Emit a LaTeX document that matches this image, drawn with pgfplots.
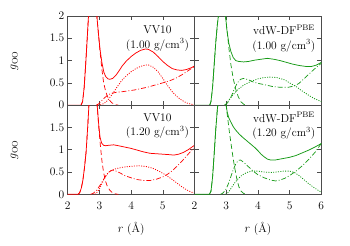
\documentclass[border=0pt]{standalone}
\usepackage{pgfplots}
\pgfplotsset{compat=1.18}
\usepgfplotslibrary{groupplots}
\definecolor{cR}{rgb}{1,0,0}
\definecolor{cG}{rgb}{0.08,0.6,0.08}
\tikzset{
  sl/.style={line width=0.75pt},
  dl/.style={line width=0.7pt, dash pattern=on 5pt off 3pt},
  tl/.style={line width=0.8pt, dash pattern=on 1pt off 1.4pt},
  dd/.style={line width=0.7pt, dash pattern=on 5pt off 2pt on 0.9pt off 2pt},
}
\begin{document}
\begin{tikzpicture}[font=\fontsize{11.5}{13.8}\selectfont]
\begin{groupplot}[
  group style={group size=2 by 2, horizontal sep=0pt, vertical sep=0pt},
  scale only axis, width=126.8pt, height=89.15pt,
  xmin=2, xmax=6, ymin=0, ymax=2,
  xtick={2,3,4,5,6}, ytick={0,0.5,1,1.5,2},
  axis line style={black!70, line width=0.6pt},
  every tick/.style={black!70, line width=0.5pt},
  xticklabel style={yshift=-4pt},
  no markers,
]
% ---------- top left: VV10 1.00
\nextgroupplot[xticklabels={}, yticklabels={0,0.5,1,1.5,2},
  ylabel={$g_{\mathrm{OO}}$},
  ylabel style={at={(axis description cs:-0.42,0.5)}, anchor=center}]
\coordinate (TL) at (rel axis cs:0,1);
\addplot[cR, sl] coordinates {(2.0,0)(2.42,0)(2.47,0.08)(2.52,0.4)(2.57,0.95)(2.62,1.55)(2.66,2.05)(2.7,2.5)(2.78,2.9)(2.86,2.6)(2.92,2.0)(2.97,1.6)(3.02,1.25)(3.08,0.95)(3.14,0.74)(3.2,0.64)(3.27,0.59)(3.33,0.58)(3.42,0.6)(3.52,0.67)(3.62,0.77)(3.72,0.88)(3.85,0.99)(4.0,1.09)(4.15,1.17)(4.3,1.23)(4.45,1.26)(4.55,1.25)(4.7,1.19)(4.85,1.09)(5.0,0.98)(5.15,0.89)(5.3,0.82)(5.45,0.79)(5.6,0.78)(5.75,0.8)(5.9,0.84)(6.0,0.88)};
\addplot[cR, dl] coordinates {(2.42,0)(2.47,0.08)(2.52,0.4)(2.57,0.95)(2.62,1.55)(2.66,2.05)(2.7,2.5)(2.78,2.9)(2.86,2.6)(2.92,2.0)(2.97,1.6)(3.02,1.2)(3.08,0.8)(3.13,0.52)(3.19,0.33)(3.25,0.2)(3.32,0.11)(3.4,0.05)(3.5,0.01)(3.6,0)};
\addplot[cR, tl] coordinates {(2.95,0)(3.05,0.01)(3.15,0.04)(3.25,0.1)(3.35,0.19)(3.45,0.29)(3.55,0.4)(3.7,0.55)(3.85,0.66)(4.0,0.75)(4.15,0.82)(4.3,0.87)(4.45,0.9)(4.55,0.9)(4.7,0.85)(4.85,0.75)(5.0,0.6)(5.15,0.44)(5.3,0.3)(5.45,0.19)(5.6,0.11)(5.75,0.05)(5.9,0.02)(6.0,0.01)};
\addplot[cR, dd] coordinates {(2.9,0)(2.98,0.03)(3.06,0.09)(3.14,0.15)(3.22,0.2)(3.3,0.24)(3.4,0.27)(3.55,0.29)(3.7,0.3)(3.9,0.32)(4.1,0.34)(4.3,0.37)(4.5,0.4)(4.7,0.44)(4.9,0.48)(5.1,0.52)(5.3,0.57)(5.45,0.62)(5.6,0.68)(5.75,0.75)(5.9,0.82)(6.0,0.87)};
\node[align=center] at (axis cs:4.83,1.5) {VV10\\[1pt](1.00 g/cm$^3$)};
% ---------- top right: vdW-DF 1.00
\nextgroupplot[xticklabels={}, yticklabels={}]
\addplot[cG, sl] coordinates {(2.0,0)(2.48,0)(2.52,0.08)(2.57,0.4)(2.62,0.9)(2.67,1.4)(2.72,1.8)(2.77,2.1)(2.85,2.7)(2.92,2.5)(2.98,2.0)(3.02,1.7)(3.08,1.4)(3.15,1.2)(3.22,1.07)(3.3,1.0)(3.4,0.98)(3.55,0.97)(3.7,0.98)(3.9,1.01)(4.1,1.03)(4.3,1.05)(4.5,1.03)(4.7,1.0)(4.9,0.96)(5.1,0.92)(5.3,0.89)(5.5,0.87)(5.7,0.87)(5.85,0.9)(6.0,0.96)};
\addplot[cG, dl] coordinates {(2.48,0)(2.52,0.08)(2.57,0.4)(2.62,0.9)(2.67,1.4)(2.72,1.8)(2.77,2.1)(2.85,2.7)(2.92,2.5)(2.98,2.0)(3.03,1.65)(3.09,1.25)(3.15,0.9)(3.22,0.6)(3.3,0.36)(3.38,0.19)(3.46,0.08)(3.55,0.02)(3.65,0)};
\addplot[cG, tl] coordinates {(2.95,0)(3.02,0.04)(3.09,0.12)(3.2,0.22)(3.35,0.34)(3.55,0.45)(3.77,0.53)(4.0,0.59)(4.2,0.62)(4.4,0.63)(4.6,0.62)(4.83,0.57)(5.05,0.48)(5.2,0.42)(5.35,0.34)(5.5,0.27)(5.65,0.2)(5.8,0.14)(6.0,0.08)};
\addplot[cG, dd] coordinates {(2.95,0)(3.05,0.06)(3.15,0.18)(3.25,0.35)(3.35,0.5)(3.45,0.58)(3.55,0.6)(3.7,0.57)(3.85,0.52)(4.0,0.49)(4.2,0.46)(4.45,0.42)(4.7,0.4)(4.95,0.4)(5.15,0.43)(5.3,0.49)(5.45,0.59)(5.6,0.69)(5.75,0.79)(5.9,0.88)(6.0,0.94)};
\node[align=center] at (axis cs:4.82,1.5) {vdW-DF\textsuperscript{PBE}\\[1pt](1.00 g/cm$^3$)};
% ---------- bottom left: VV10 1.20
\nextgroupplot[xticklabels={2,3,4,5,}, yticklabels={0,0.5,1,1.5,},
  ylabel={$g_{\mathrm{OO}}$},
  ylabel style={at={(axis description cs:-0.42,0.5)}, anchor=center},
  xlabel={$r$ (\AA)},
  xlabel style={at={(axis description cs:0.5,-0.39)}, anchor=center}]
\addplot[cR, sl] coordinates {(2.0,0)(2.33,0)(2.38,0.04)(2.43,0.14)(2.48,0.32)(2.53,0.6)(2.58,0.95)(2.63,1.5)(2.67,2.0)(2.78,2.9)(2.88,2.5)(2.93,2.0)(2.98,1.55)(3.02,1.28)(3.07,1.15)(3.13,1.1)(3.2,1.09)(3.3,1.1)(3.45,1.11)(3.6,1.09)(3.8,1.06)(4.0,1.03)(4.2,0.99)(4.4,0.95)(4.6,0.92)(4.8,0.91)(5.0,0.9)(5.2,0.89)(5.35,0.88)(5.5,0.9)(5.65,0.94)(5.8,1.0)(5.9,1.05)(6.0,1.1)};
\addplot[cR, dl] coordinates {(2.33,0)(2.38,0.04)(2.43,0.14)(2.48,0.32)(2.53,0.6)(2.58,0.95)(2.63,1.5)(2.67,2.0)(2.78,2.9)(2.88,2.5)(2.93,2.0)(2.98,1.5)(3.03,1.1)(3.08,0.75)(3.13,0.5)(3.19,0.3)(3.25,0.18)(3.32,0.1)(3.4,0.04)(3.5,0.01)(3.6,0)};
\addplot[cR, tl] coordinates {(2.85,0)(2.92,0.04)(3.0,0.12)(3.08,0.24)(3.17,0.38)(3.27,0.48)(3.38,0.54)(3.55,0.58)(3.75,0.61)(4.0,0.63)(4.25,0.64)(4.5,0.62)(4.7,0.58)(4.9,0.51)(5.1,0.43)(5.3,0.33)(5.45,0.25)(5.6,0.17)(5.75,0.1)(5.9,0.05)(6.0,0.03)};
\addplot[cR, dd] coordinates {(2.72,0)(2.8,0.02)(2.9,0.08)(3.0,0.18)(3.1,0.3)(3.2,0.41)(3.3,0.5)(3.4,0.54)(3.5,0.53)(3.65,0.48)(3.8,0.42)(4.0,0.37)(4.2,0.33)(4.4,0.31)(4.6,0.31)(4.8,0.34)(5.0,0.39)(5.15,0.45)(5.3,0.53)(5.45,0.63)(5.6,0.74)(5.75,0.86)(5.9,0.98)(6.0,1.05)};
\node[align=center] at (axis cs:4.83,1.53) {VV10\\[1pt](1.20 g/cm$^3$)};
% ---------- bottom right: vdW-DF 1.20
\nextgroupplot[xticklabels={2,3,4,5,6}, yticklabels={},
  xlabel={$r$ (\AA)},
  xlabel style={at={(axis description cs:0.5,-0.39)}, anchor=center}]
\coordinate (BR) at (rel axis cs:1,0);
\addplot[cG, sl] coordinates {(2.0,0)(2.47,0)(2.52,0.07)(2.57,0.38)(2.62,0.9)(2.67,1.45)(2.72,1.9)(2.75,2.1)(2.85,2.7)(2.93,2.5)(2.98,2.1)(3.03,1.85)(3.08,1.72)(3.14,1.63)(3.22,1.52)(3.3,1.44)(3.4,1.36)(3.5,1.29)(3.6,1.23)(3.7,1.17)(3.8,1.11)(3.9,1.05)(4.0,0.98)(4.1,0.9)(4.2,0.84)(4.3,0.79)(4.4,0.77)(4.55,0.77)(4.7,0.79)(4.85,0.81)(5.0,0.83)(5.2,0.87)(5.4,0.93)(5.6,0.99)(5.8,1.06)(6.0,1.14)};
\addplot[cG, dl] coordinates {(2.47,0)(2.52,0.07)(2.57,0.38)(2.62,0.9)(2.67,1.45)(2.72,1.9)(2.75,2.1)(2.85,2.7)(2.93,2.5)(2.98,2.1)(3.04,1.75)(3.1,1.4)(3.16,1.1)(3.22,0.8)(3.28,0.55)(3.34,0.33)(3.4,0.17)(3.47,0.07)(3.55,0.02)(3.65,0)};
\addplot[cG, tl] coordinates {(2.98,0)(3.06,0.04)(3.14,0.12)(3.24,0.23)(3.35,0.33)(3.5,0.43)(3.65,0.49)(3.8,0.52)(4.0,0.52)(4.2,0.5)(4.4,0.49)(4.6,0.5)(4.8,0.52)(5.0,0.52)(5.15,0.49)(5.3,0.42)(5.45,0.33)(5.6,0.24)(5.75,0.16)(5.9,0.09)(6.0,0.05)};
\addplot[cG, dd] coordinates {(2.82,0)(2.9,0.03)(2.98,0.1)(3.06,0.22)(3.14,0.38)(3.22,0.55)(3.3,0.68)(3.38,0.76)(3.45,0.77)(3.55,0.72)(3.7,0.62)(3.85,0.52)(4.0,0.44)(4.2,0.37)(4.4,0.32)(4.55,0.3)(4.7,0.32)(4.85,0.36)(5.0,0.42)(5.2,0.52)(5.4,0.64)(5.6,0.78)(5.8,0.94)(6.0,1.14)};
\node[align=center] at (axis cs:4.82,1.53) {vdW-DF\textsuperscript{PBE}\\[1pt](1.20 g/cm$^3$)};
\end{groupplot}
\path ([xshift=-67.7pt,yshift=16pt]TL) rectangle ([xshift=28.7pt,yshift=-50.7pt]BR);
\end{tikzpicture}
\end{document}
